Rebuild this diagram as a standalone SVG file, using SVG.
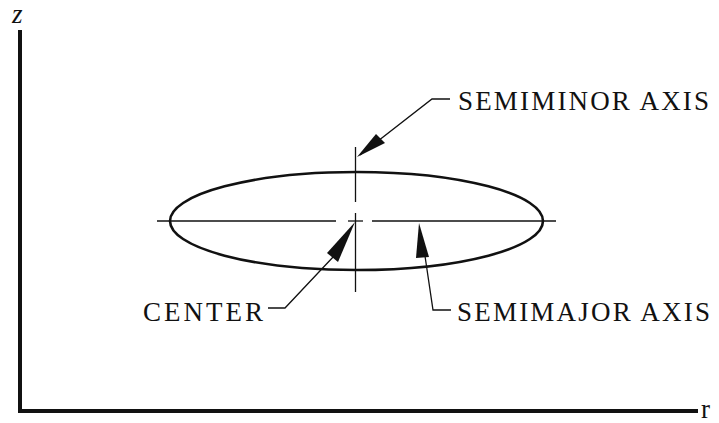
<svg xmlns="http://www.w3.org/2000/svg" width="719" height="423" viewBox="0 0 719 423">
<style>
.lbl{font-family:"Liberation Serif","Times New Roman",serif;font-size:27px;fill:#111}
.thin{stroke:#111;stroke-width:1.3;fill:none}
.med{stroke:#111;stroke-width:2.6;fill:none}
.axis{stroke:#111;stroke-width:4;fill:none}
</style>
<g id="axes">
<line class="axis" x1="20" y1="30" x2="20" y2="412"/>
<line class="axis" x1="18" y1="411" x2="698" y2="411"/>
<text class="lbl" x="12" y="23" font-style="italic" font-size="17">z</text>
<text class="lbl" x="701" y="418" font-size="18">r</text>
</g>
<g id="ellipse">
<ellipse class="med" cx="356.5" cy="221" rx="186.5" ry="49"/>
<line class="thin" x1="157" y1="221" x2="336" y2="221"/>
<line class="thin" x1="372" y1="221" x2="556" y2="221"/>
<line class="thin" x1="348" y1="221" x2="363" y2="221"/>
<line class="thin" x1="355.5" y1="147" x2="355.5" y2="202"/>
<line class="thin" x1="355.5" y1="213" x2="355.5" y2="292"/>
</g>
<g id="connectors">
<polyline class="thin" points="450,99 432,99 360,155"/>
<path d="M357,157 L376,134 L385,143 Z" fill="#111"/>
<polyline class="thin" points="268,308 285,308 334,256"/>
<path d="M355,222 L338,262 L327,253 Z" fill="#111"/>
<polyline class="thin" points="451,310 433,310 425,256"/>
<path d="M419,223 L429,257 L416,258 Z" fill="#111"/>
</g>
<g id="label-semiminor"><text class="lbl" x="458" y="110" textLength="251" lengthAdjust="spacing">SEMIMINOR AXIS</text></g>
<g id="label-center"><text class="lbl" x="143" y="321" textLength="120" lengthAdjust="spacing">CENTER</text></g>
<g id="label-semimajor"><text class="lbl" x="457" y="321" textLength="253" lengthAdjust="spacing">SEMIMAJOR AXIS</text></g>
</svg>
